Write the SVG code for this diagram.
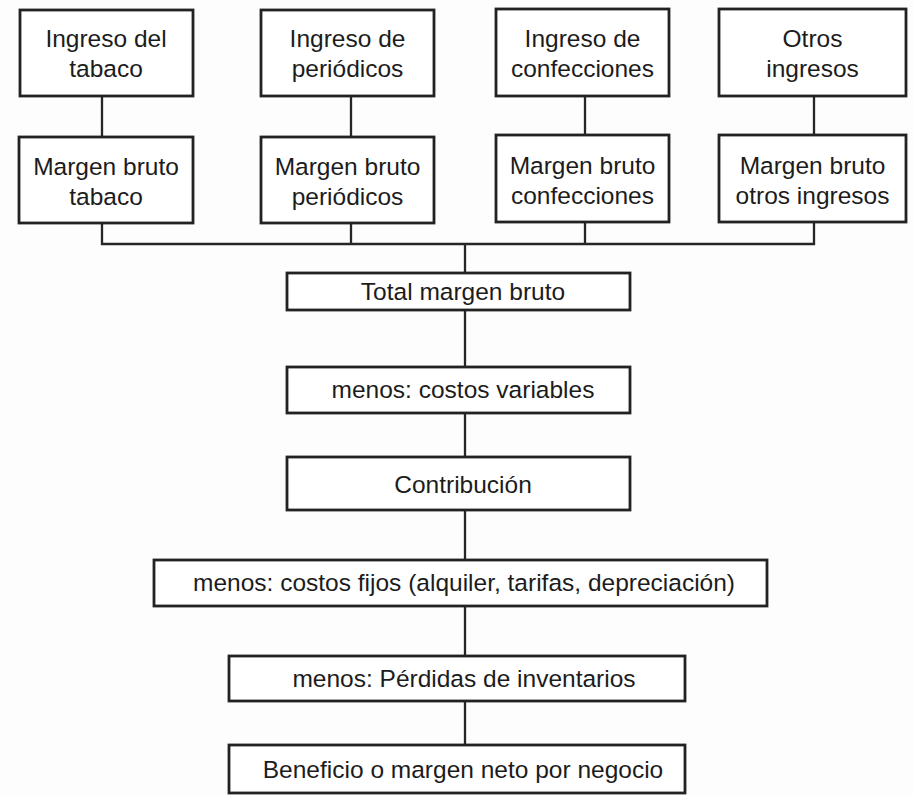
<svg xmlns="http://www.w3.org/2000/svg" width="914" height="795" viewBox="0 0 914 795">
  <style>
    .box { fill: #ffffff; stroke: #222222; stroke-width: 2.8; }
    .lbl { font-family: "Liberation Sans", Arial, sans-serif; font-size: 24.5px; fill: #1c1c1c; text-anchor: middle; }
    .conn { fill: none; stroke: #262626; stroke-width: 2.3; }
  </style>
  <rect x="0" y="0" width="914" height="795" fill="#fdfdfd"/>

  <g id="connectors">
    <line class="conn" x1="102" y1="96" x2="102" y2="137"/>
    <line class="conn" x1="351" y1="96" x2="351" y2="137"/>
    <line class="conn" x1="585" y1="96" x2="585" y2="135"/>
    <line class="conn" x1="814" y1="96" x2="814" y2="135"/>
    <polyline class="conn" points="102,223 102,244 814,244 814,222"/>
    <line class="conn" x1="351" y1="223" x2="351" y2="244"/>
    <line class="conn" x1="585" y1="222" x2="585" y2="244"/>
    <line class="conn" x1="465" y1="244" x2="465" y2="273"/>
    <line class="conn" x1="465" y1="310" x2="465" y2="367"/>
    <line class="conn" x1="465" y1="413" x2="465" y2="457"/>
    <line class="conn" x1="465" y1="510" x2="465" y2="560"/>
    <line class="conn" x1="465" y1="606" x2="465" y2="656"/>
    <line class="conn" x1="465" y1="701" x2="465" y2="745"/>
  </g>

  <g id="ingreso-tabaco">
    <rect class="box" x="20" y="10" width="173" height="86"/>
    <text class="lbl" x="106" y="47">Ingreso del</text>
    <text class="lbl" x="106" y="77">tabaco</text>
  </g>
  <g id="ingreso-periodicos">
    <rect class="box" x="261" y="10" width="173" height="86"/>
    <text class="lbl" x="347.5" y="47">Ingreso de</text>
    <text class="lbl" x="347.5" y="77">periódicos</text>
  </g>
  <g id="ingreso-confecciones">
    <rect class="box" x="496" y="9" width="173" height="87"/>
    <text class="lbl" x="582.5" y="47">Ingreso de</text>
    <text class="lbl" x="582.5" y="77">confecciones</text>
  </g>
  <g id="otros-ingresos">
    <rect class="box" x="719" y="9" width="187" height="87"/>
    <text class="lbl" x="812.5" y="47">Otros</text>
    <text class="lbl" x="812.5" y="77">ingresos</text>
  </g>

  <g id="margen-tabaco">
    <rect class="box" x="19" y="137" width="174" height="86"/>
    <text class="lbl" x="106" y="175">Margen bruto</text>
    <text class="lbl" x="106" y="205">tabaco</text>
  </g>
  <g id="margen-periodicos">
    <rect class="box" x="261" y="137" width="173" height="86"/>
    <text class="lbl" x="347.5" y="175">Margen bruto</text>
    <text class="lbl" x="347.5" y="205">periódicos</text>
  </g>
  <g id="margen-confecciones">
    <rect class="box" x="496" y="135" width="173" height="87"/>
    <text class="lbl" x="582.5" y="174">Margen bruto</text>
    <text class="lbl" x="582.5" y="204">confecciones</text>
  </g>
  <g id="margen-otros">
    <rect class="box" x="719" y="135" width="187" height="87"/>
    <text class="lbl" x="812.5" y="174">Margen bruto</text>
    <text class="lbl" x="812.5" y="204">otros ingresos</text>
  </g>

  <g id="total-margen">
    <rect class="box" x="287" y="273" width="343" height="37"/>
    <text class="lbl" x="463" y="300">Total margen bruto</text>
  </g>
  <g id="costos-variables">
    <rect class="box" x="287" y="367" width="343" height="46"/>
    <text class="lbl" x="463" y="398">menos: costos variables</text>
  </g>
  <g id="contribucion">
    <rect class="box" x="287" y="457" width="343" height="53"/>
    <text class="lbl" x="463" y="493">Contribución</text>
  </g>
  <g id="costos-fijos">
    <rect class="box" x="154" y="560" width="613" height="46"/>
    <text class="lbl" x="464" y="591">menos: costos fijos (alquiler, tarifas, depreciación)</text>
  </g>
  <g id="perdidas">
    <rect class="box" x="229" y="656" width="456" height="45"/>
    <text class="lbl" x="464" y="687">menos: Pérdidas de inventarios</text>
  </g>
  <g id="beneficio">
    <rect class="box" x="229" y="745" width="456" height="48"/>
    <text class="lbl" x="463" y="778">Beneficio o margen neto por negocio</text>
  </g>
</svg>
